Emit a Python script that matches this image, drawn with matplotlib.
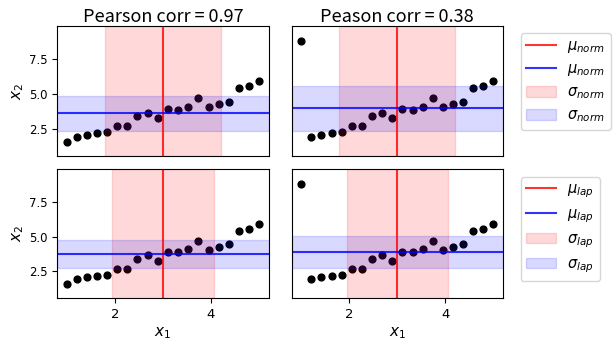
import matplotlib
matplotlib.use("Agg")
import matplotlib.pyplot as plt
import numpy as np

plt.rcParams['font.family'] = ['Noto Sans CJK JP', 'DejaVu Sans']

# data
x1 = [1.00, 1.21, 1.42, 1.63, 1.84, 2.05, 2.26, 2.47, 2.68, 2.89,
      3.11, 3.32, 3.53, 3.74, 3.95, 4.16, 4.37, 4.58, 4.79, 5.00]
x2_clean = [1.55, 1.94, 2.05, 2.19, 2.26, 2.69, 2.69, 3.38, 3.66, 3.27,
            3.92, 3.86, 4.09, 4.67, 4.02, 4.27, 4.43, 5.42, 5.56, 5.90]
x2_outlier = [8.80, 1.94, 2.05, 2.19, 2.26, 2.69, 2.69, 3.38, 3.66, 3.27,
              3.92, 3.86, 4.09, 4.67, 4.02, 4.27, 4.43, 5.42, 5.56, 5.90]
titles = ["Pearson corr = 0.97", "Peason corr = 0.38"]

W, H = 613, 346
fig = plt.figure(figsize=(W/100, H/100), dpi=100)

def box(l, r, t, b):
    return [l/W, (H-b)/H, (r-l)/W, (b-t)/H]

lefts = [(57.3, 268.5), (291.7, 502.7)]
rows = [(26, 156), (169.3, 298.3)]

def norm_stats(v):
    v = np.asarray(v)
    return v.mean(), v.std()

def lap_stats(v):
    v = np.asarray(v)
    m = np.median(v)
    return m, np.mean(np.abs(v - m))

for r, (stat, name) in enumerate([(norm_stats, "norm"), (lap_stats, "lap")]):
    for c, y in enumerate([x2_clean, x2_outlier]):
        ax = fig.add_axes(box(lefts[c][0], lefts[c][1], rows[r][0], rows[r][1]))
        ax.scatter(x1, y, s=24, color='black', zorder=1)
        mx, sx = stat(x1)
        my, sy = stat(y)
        h1 = ax.axvline(mx, color='red', alpha=0.8, lw=1.5)
        h2 = ax.axhline(my, color='blue', alpha=0.8, lw=1.5)
        h3 = ax.axvspan(mx - sx, mx + sx, color='red', alpha=0.15, lw=1)
        h4 = ax.axhspan(my - sy, my + sy, color='blue', alpha=0.15, lw=1)
        ax.set_xlim(0.8, 5.2)
        ax.set_ylim(0.55, 9.85)
        ax.set_xticks([2, 4])
        ax.set_yticks([2.5, 5.0, 7.5])
        ax.tick_params(axis='x', labelsize=9.5)
        ax.tick_params(axis='y', labelsize=8.5)
        for lab in ax.get_xticklabels() + ax.get_yticklabels():
            lab.set_family('DejaVu Sans')
        if r == 0:
            ax.set_title(titles[c], fontsize=13, pad=3)
            ax.tick_params(axis='x', bottom=False, labelbottom=False)
        else:
            ax.set_xlabel(r'$x_1$', fontsize=11, labelpad=2)
        if c == 0:
            ax.set_ylabel(r'$x_2$', fontsize=11, labelpad=2)
        else:
            ax.tick_params(axis='y', left=False, labelleft=False)
            labels = [r'$\mu_{%s}$' % name, r'$\mu_{%s}$' % name,
                      r'$\sigma_{%s}$' % name, r'$\sigma_{%s}$' % name]
            ax.legend([h1, h2, h3, h4], labels, loc='upper left',
                      bbox_to_anchor=(1.05, 1), fontsize=10.5)

fig.savefig("out.png", dpi=100)
